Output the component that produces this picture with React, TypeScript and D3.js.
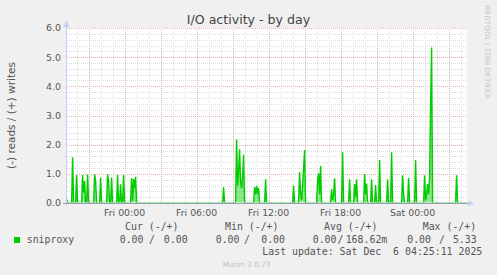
import React from 'react';
import * as d3 from 'd3';

// ---------- data ----------
const DOMAIN_START = '2025-12-04 19:12';
const DOMAIN_END = '2025-12-06 04:32';
const SERIES_START = '2025-12-04 19:05';
const SERIES_END = '2025-12-06 04:35';

// write rate (positive side); every 5-minute sample not listed here reads 0
const writeSpikes: [string, number][] = [
  ['2025-12-04 19:10', 0.12],
  ['2025-12-04 19:40', 1.57],
  ['2025-12-04 20:00', 0.96],
  ['2025-12-04 20:30', 0.96],
  ['2025-12-04 20:35', 0.35],
  ['2025-12-04 20:40', 0.75],
  ['2025-12-04 20:55', 0.98],
  ['2025-12-04 21:30', 0.98],
  ['2025-12-04 21:35', 0.75],
  ['2025-12-04 22:00', 0.87],
  ['2025-12-04 22:35', 0.98],
  ['2025-12-04 22:40', 0.75],
  ['2025-12-04 22:55', 0.87],
  ['2025-12-04 23:25', 0.96],
  ['2025-12-04 23:40', 0.64],
  ['2025-12-04 23:55', 0.96],
  ['2025-12-05 00:35', 0.86],
  ['2025-12-05 00:40', 0.08],
  ['2025-12-05 00:45', 0.82],
  ['2025-12-05 00:50', 0.5],
  ['2025-12-05 00:55', 0.9],
  ['2025-12-05 08:15', 0.54],
  ['2025-12-05 09:20', 2.18],
  ['2025-12-05 09:25', 0.6],
  ['2025-12-05 09:30', 1.1],
  ['2025-12-05 09:35', 1.84],
  ['2025-12-05 09:40', 0.7],
  ['2025-12-05 09:45', 0.5],
  ['2025-12-05 09:50', 0.9],
  ['2025-12-05 09:55', 1.65],
  ['2025-12-05 10:50', 0.54],
  ['2025-12-05 10:55', 0.3],
  ['2025-12-05 11:00', 0.59],
  ['2025-12-05 11:05', 0.3],
  ['2025-12-05 11:10', 0.51],
  ['2025-12-05 11:45', 0.81],
  ['2025-12-05 14:05', 0.6],
  ['2025-12-05 14:35', 1.06],
  ['2025-12-05 14:40', 0.3],
  ['2025-12-05 14:45', 0.1],
  ['2025-12-05 14:50', 0.6],
  ['2025-12-05 14:55', 1.2],
  ['2025-12-05 15:00', 1.82],
  ['2025-12-05 16:05', 0.8],
  ['2025-12-05 16:10', 1.02],
  ['2025-12-05 16:15', 0.3],
  ['2025-12-05 16:20', 1.27],
  ['2025-12-05 17:15', 0.47],
  ['2025-12-05 17:20', 0.1],
  ['2025-12-05 17:25', 0.3],
  ['2025-12-05 17:30', 0.85],
  ['2025-12-05 18:10', 1.74],
  ['2025-12-05 18:45', 0.81],
  ['2025-12-05 19:10', 0.65],
  ['2025-12-05 19:15', 0.2],
  ['2025-12-05 19:20', 0.81],
  ['2025-12-05 20:00', 0.99],
  ['2025-12-05 20:05', 0.3],
  ['2025-12-05 20:10', 0.67],
  ['2025-12-05 20:35', 0.81],
  ['2025-12-05 20:55', 0.62],
  ['2025-12-05 21:15', 1.47],
  ['2025-12-05 21:55', 0.81],
  ['2025-12-05 22:15', 1.74],
  ['2025-12-05 23:10', 0.95],
  ['2025-12-05 23:15', 0.3],
  ['2025-12-05 23:40', 0.86],
  ['2025-12-06 00:15', 1.47],
  ['2025-12-06 01:00', 0.95],
  ['2025-12-06 01:05', 0.1],
  ['2025-12-06 01:10', 0.3],
  ['2025-12-06 01:15', 0.65],
  ['2025-12-06 01:20', 0.3],
  ['2025-12-06 01:25', 0.85],
  ['2025-12-06 01:30', 3.4],
  ['2025-12-06 01:35', 5.33],
  ['2025-12-06 03:40', 0.95],
];

const yTicks = [0, 1, 2, 3, 4, 5, 6];
const xLabelTimes = ['2025-12-05 00:00', '2025-12-05 06:00', '2025-12-05 12:00', '2025-12-05 18:00', '2025-12-06 00:00'];

const seriesName = 'sniproxy';
const legendHeaders = ['Cur (-/+)', 'Min (-/+)', 'Avg (-/+)', 'Max (-/+)'];
const readValues = ['0.00', '0.00', '0.00', '0.00'];
const writeValues = ['0.00', '0.00', '168.62m', '5.33'];
const title = 'I/O activity - by day';
const yLabel = '(-) reads / (+) writes';
const lastUpdate = 'Last update: Sat Dec  6 04:25:11 2025';
const watermark = 'RRDTOOL / TOBI OETIKER';
const version = 'Munin 2.0.73';

// ---------- layout ----------
const W = 497, H = 275;
const L = 67, R = 467, T = 28, B = 203;
const headerX = [125, 225, 324, 422.7];
const readEndX = [143.5, 239.5, 336.5, 431];
const slashX = [152, 247, 340.5, 442];
const writeEndX = [187.6, 285, 387.3, 476.7];

const parse = d3.timeParse('%Y-%m-%d %H:%M');
const fmt = d3.timeFormat('%Y-%m-%d %H:%M');

const AXIS = '#c6cdf2';
const BASE = '#9c9cb8';
const GREEN = '#00cc00';
const MINOR = '#dcdcdc';
const MAJOR = '#dfb5b5';
const FONT = '#555555';
const SANS = '"DejaVu Sans", Verdana, sans-serif';
const MONO = '"DejaVu Sans Mono", monospace';

export default function App() {
  const x = d3.scaleTime().domain([parse(DOMAIN_START)!, parse(DOMAIN_END)!]).range([L, R]);
  const y = d3.scaleLinear().domain([0, 6]).range([B, T]);

  const spikeMap = new Map(writeSpikes.map(([t, v]) => [t, v]));
  const samples = d3.timeMinute
    .every(5)!
    .range(parse(SERIES_START)!, d3.timeMinute.offset(parse(SERIES_END)!, 1))
    .map((t) => ({ t, v: spikeMap.get(fmt(t)) ?? 0 }));

  const line = d3
    .line<{ t: Date; v: number }>()
    .x((d) => x(d.t))
    .y((d) => y(d.v));
  const area = d3
    .area<{ t: Date; v: number }>()
    .x((d) => x(d.t))
    .y0(B)
    .y1((d) => y(d.v));

  const hours = d3.timeHour.every(1)!.range(x.domain()[0], x.domain()[1]);
  const minorV = hours.filter((h) => h.getHours() % 3 !== 0);
  const majorV = hours.filter((h) => h.getHours() % 3 === 0);
  const minorH = d3.range(0, 30).filter((i) => i % 5 !== 0).map((i) => i / 5);

  return (
    <svg width={W} height={H} style={{ position: 'absolute', left: 0, top: 0 }} xmlns="http://www.w3.org/2000/svg">
      <defs>
        <clipPath id="plotclip">
          <rect x={L} y={T - 2} width={R - L} height={B - T + 1.5} />
        </clipPath>
      </defs>
      <rect x={0} y={0} width={W} height={H} fill="#f0f0f0" />
      <rect x={L} y={T} width={R - L} height={B - T} fill="#ffffff" />

      {/* minor grid */}
      <g stroke={MINOR} strokeWidth={1} strokeDasharray="1,1" shapeRendering="crispEdges">
        {minorV.map((h, i) => (
          <line key={'mv' + i} x1={Math.round(x(h)) + 0.5} x2={Math.round(x(h)) + 0.5} y1={T} y2={B} />
        ))}
        {minorH.map((v, i) => (
          <line key={'mh' + i} x1={L} x2={R} y1={Math.round(y(v)) + 0.5} y2={Math.round(y(v)) + 0.5} />
        ))}
      </g>
      {/* major grid */}
      <g stroke={MAJOR} strokeWidth={1} strokeDasharray="1,1" shapeRendering="crispEdges">
        {majorV.map((h, i) => (
          <line key={'Mv' + i} x1={Math.round(x(h)) + 0.5} x2={Math.round(x(h)) + 0.5} y1={T} y2={B} />
        ))}
        {yTicks.filter((v) => v > 0).map((v, i) => (
          <line key={'Mh' + i} x1={L} x2={R} y1={Math.round(y(v)) + 0.5} y2={Math.round(y(v)) + 0.5} />
        ))}
      </g>

      {/* data */}
      <g clipPath="url(#plotclip)">
        <path d={area(samples) ?? ''} fill={GREEN} fillOpacity={0.45} stroke="none" />
        <path d={line(samples) ?? ''} fill="none" stroke={GREEN} strokeWidth={1.4} strokeLinejoin="miter" />
      </g>

      {/* axes */}
      <g strokeWidth={1} shapeRendering="crispEdges">
        <line stroke={AXIS} x1={L - 0.5} x2={L - 0.5} y1={B + 3} y2={T - 4} />
        <line stroke={BASE} x1={L - 4} x2={R + 1} y1={B + 0.5} y2={B + 0.5} />
      </g>
      <path d={`M${L - 3.5},${T - 1} L${L - 0.5},${T - 8} L${L + 2.5},${T - 1} Z`} fill={AXIS} />
      <path d={`M${R + 1},${B - 2.5} L${R + 7},${B + 0.5} L${R + 1},${B + 3.5} Z`} fill={AXIS} />

      {/* y tick labels */}
      <g fontFamily={SANS} fontSize={9.4} fill={FONT} textAnchor="end">
        {yTicks.map((v) => (
          <text key={'yt' + v} x={61} y={y(v) + 3.4}>
            {v.toFixed(1)}
          </text>
        ))}
      </g>
      {/* x labels */}
      <g fontFamily={SANS} fontSize={9.4} fill={FONT} textAnchor="middle">
        {xLabelTimes.map((s) => {
          const t = parse(s)!;
          return (
            <text key={s} x={x(t)} y={215.5}>
              {d3.timeFormat('%a %H:%M')(t)}
            </text>
          );
        })}
      </g>

      {/* title */}
      <text x={248.5} y={24} fontFamily={SANS} fontSize={12.6} fill="#444" textAnchor="middle">
        {title}
      </text>
      {/* y label */}
      <text
        transform={`translate(15,${(T + B) / 2}) rotate(-90)`}
        fontFamily={SANS}
        fontSize={10.5}
        fill={FONT}
        textAnchor="middle"
      >
        {yLabel}
      </text>
      {/* watermark */}
      <text transform="translate(485,5) rotate(90)" fontFamily={SANS} fontSize={7.3} fill="#c8c8c8">
        {watermark}
      </text>

      {/* legend */}
      <g fontFamily={MONO} fontSize={9.9} fill={FONT} style={{ whiteSpace: 'pre' }}>
        {legendHeaders.map((h, i) => (
          <text key={'h' + i} x={headerX[i]} y={229.5}>
            {h}
          </text>
        ))}
        <rect x={14} y={237} width={6} height={6} fill={GREEN} />
        <text x={26.7} y={242.5}>
          {seriesName}
        </text>
        {readValues.map((v, i) => (
          <text key={'r' + i} x={readEndX[i]} y={242.5} textAnchor="end">
            {v}
          </text>
        ))}
        {readValues.map((_, i) => (
          <text key={'s' + i} x={slashX[i]} y={242.5} textAnchor="middle">
            /
          </text>
        ))}
        {writeValues.map((v, i) => (
          <text key={'w' + i} x={writeEndX[i]} y={242.5} textAnchor="end">
            {v}
          </text>
        ))}
        <text x={482.3} y={254.5} textAnchor="end" style={{ whiteSpace: 'pre' }}>
          {lastUpdate}
        </text>
      </g>
      <text x={222.7} y={266.5} fontFamily={SANS} fontSize={7.3} fill="#c0c0c0">
        {version}
      </text>
    </svg>
  );
}
